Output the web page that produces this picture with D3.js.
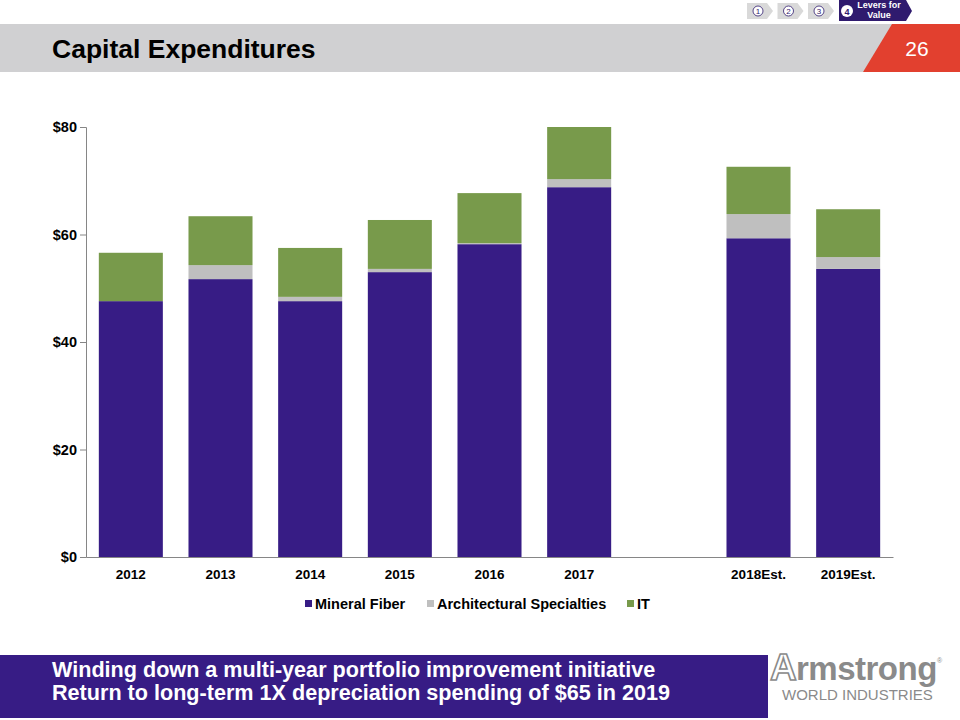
<!DOCTYPE html>
<html><head><meta charset="utf-8">
<script src="https://cdn.jsdelivr.net/npm/d3@7"></script>
<style>
body{margin:0;background:#fff;}
svg{display:block;font-family:Arial,"Liberation Sans",sans-serif;}
</style></head>
<body><svg id="c" width="960" height="720"></svg>
<script>
const categories = ["2012","2013","2014","2015","2016","2017"," ","2018Est.","2019Est."];
const mineralFiber = [47.6,51.7,47.6,53.0,58.2,68.8,null,59.3,53.6];
const archSpecialties = [0,2.6,0.8,0.6,0.2,1.5,null,4.5,2.2];
const itSpend = [9.0,9.1,9.1,9.1,9.3,9.7,null,8.8,8.9];
const seriesNames = ["Mineral Fiber","Architectural Specialties","IT"];
const seriesColors = ["#371c85","#bfbfbf","#789a4b"];
const yTicks = [0,20,40,60,80];
const navLabels = ["1","2","3"];
const bannerLines = ["Winding down a multi-year  portfolio improvement initiative","Return to long-term 1X depreciation spending of $65 in 2019"];

const FONT = 'Arial,"Liberation Sans",sans-serif';
const svg = d3.select("#c");

// header band
svg.append("rect").attr("x",0).attr("y",24).attr("width",960).attr("height",48).attr("fill","#d0d0d2");
svg.append("path").attr("d","M892,24 L960,24 L960,72 L863,72 Z").attr("fill","#e2402f");
svg.append("text").attr("x",917).attr("y",56).attr("text-anchor","middle").attr("fill","#fff")
  .attr("font-size",21).text("26");
svg.append("text").attr("x",52).attr("y",58).attr("font-size",26.5).attr("font-weight","bold").attr("fill","#000")
  .text("Capital Expenditures");

// nav chevrons
navLabels.forEach((t,i)=>{
  const x0 = 747 + i*30.5;
  svg.append("path").attr("d",`M${x0},3 L${x0+20},3 L${x0+26},11 L${x0+20},19 L${x0},19 Z`).attr("fill","#d9d9d9");
  svg.append("circle").attr("cx",x0+11).attr("cy",11).attr("r",5).attr("fill","#fff").attr("stroke","#2f1a6e").attr("stroke-width",0.8);
  svg.append("text").attr("x",x0+11).attr("y",14).attr("text-anchor","middle").attr("font-size",8).attr("fill","#2f1a6e").text(t);
});
svg.append("path").attr("d","M839,0 L906,0 L912,11 L906,21 L839,21 Z").attr("fill","#2f1a6e");
svg.append("circle").attr("cx",847).attr("cy",11).attr("r",6).attr("fill","#fff");
svg.append("text").attr("x",847).attr("y",14.5).attr("text-anchor","middle").attr("font-size",9).attr("font-weight","bold").attr("fill","#2f1a6e").text("4");
svg.append("text").attr("x",879).attr("y",8).attr("text-anchor","middle").attr("font-size",9).attr("font-weight","bold").attr("fill","#fff").text("Levers for");
svg.append("text").attr("x",879).attr("y",17.5).attr("text-anchor","middle").attr("font-size",9).attr("font-weight","bold").attr("fill","#fff").text("Value");

// chart
const x = d3.scaleBand().domain(categories).range([86,893]).paddingInner(0.286).paddingOuter(0.143);
const y = d3.scaleLinear().domain([0,80]).range([557,127]);

const rows = categories.map((c,i)=>({cat:c, mf:mineralFiber[i]||0, as:archSpecialties[i]||0, it:itSpend[i]||0, valid:mineralFiber[i]!=null}));
const stack = d3.stack().keys(["mf","as","it"])(rows);

const g = svg.append("g");
stack.forEach((layer,si)=>{
  g.selectAll(null).data(layer.filter(d=>d.data.valid && d[1]>d[0])).enter().append("rect")
    .attr("x",d=>x(d.data.cat)).attr("width",x.bandwidth())
    .attr("y",d=>y(d[1])).attr("height",d=>y(d[0])-y(d[1]))
    .attr("fill",seriesColors[si]);
});

// y axis
const ya = svg.append("g").attr("transform","translate(86,0)")
  .call(d3.axisLeft(y).tickValues(yTicks).tickSize(6).tickPadding(3).tickFormat(d=>"$"+d));
ya.select(".domain").attr("stroke","#868686");
ya.selectAll(".tick line").attr("stroke","#868686");
ya.selectAll("text").attr("font-size",14.5).attr("font-weight","bold").attr("fill","#000").attr("font-family",FONT);

// x axis
const xa = svg.append("g").attr("transform","translate(0,557)")
  .call(d3.axisBottom(x).tickSize(0).tickPadding(12));
xa.select(".domain").attr("stroke","#868686");
xa.selectAll("text").attr("font-size",13.5).attr("font-weight","bold").attr("fill","#000").attr("font-family",FONT);

// legend
const legX = [305,427,627];
seriesNames.forEach((n,i)=>{
  svg.append("rect").attr("x",legX[i]).attr("y",600).attr("width",7).attr("height",7).attr("fill",seriesColors[i]);
  svg.append("text").attr("x",legX[i]+10).attr("y",608.5).attr("font-size",14.5).attr("font-weight","bold").attr("fill","#000").text(n);
});

// bottom banner
svg.append("rect").attr("x",0).attr("y",655).attr("width",768).attr("height",63).attr("fill","#371c85");
bannerLines.forEach((t,i)=>{
  svg.append("text").attr("x",52).attr("y",677+i*23).attr("font-size",21.6).attr("font-weight","bold").attr("fill","#fff").text(t);
});

// logo
svg.append("text").attr("x",770).attr("y",680).attr("font-size",37).attr("font-weight","bold").attr("fill","#fff")
  .attr("stroke","#8a8a8a").attr("stroke-width",1.6).attr("letter-spacing",-1).text("A");
svg.append("text").attr("x",796).attr("y",680).attr("font-size",33).attr("font-weight","bold").attr("fill","#8a8a8a").attr("letter-spacing",-0.5).text("rmstrong");
svg.append("text").attr("x",937).attr("y",663).attr("font-size",7).attr("fill","#8a8a8a").text("®");
svg.append("text").attr("x",782).attr("y",700).attr("font-size",15).attr("fill","#8a8a8a").text("WORLD INDUSTRIES");
</script></body></html>
